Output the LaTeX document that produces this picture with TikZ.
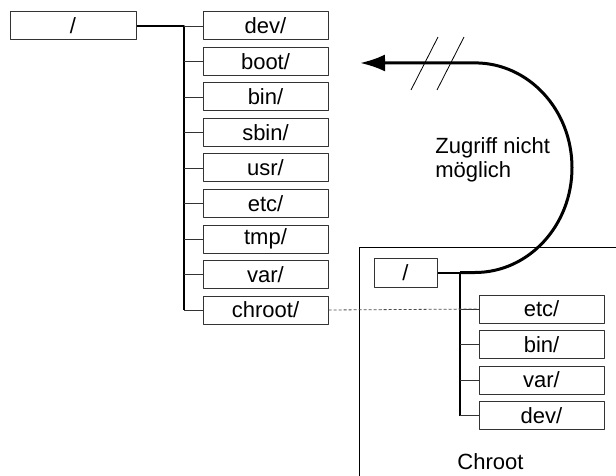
\documentclass[tikz,border=0pt]{standalone}
\usepackage{fontspec}
\setmainfont{Liberation Sans}
\usetikzlibrary{arrows.meta}
\begin{document}
\begin{tikzpicture}[x=0.5pt, y=-0.5pt, font=\fontsize{11}{12}\selectfont, line join=round,
  folder/.style={draw=black!80, line width=0.5pt, minimum width=62.5pt, minimum height=14pt, inner sep=0pt},
  branch/.style={line width=0.4pt, black!80},
  >=Latex]
\useasboundingbox (0,0) rectangle (616,476);
% chroot area
\draw[line width=0.5pt] (616,247) -- (359,247) -- (359,476);
\node[anchor=west, inner sep=0pt] (lbl) at (457,462) {Chroot};
% main tree
\node[folder, minimum width=63pt] (root) at (73,26) {/};
\foreach \name [count=\i] in {dev,boot,bin,sbin,usr,etc,tmp,var,chroot}
  \node[folder] (l-\name) at (265.5,{26+(\i-1)*35.5}) {\name/};
\coordinate (tr) at (184,26);
\draw[line width=0.6pt] (root) -- (tr) -- (tr |- l-chroot);
\foreach \name in {dev,boot,bin,sbin,usr,etc,tmp,var,chroot}
  \draw[branch] (tr |- l-\name) -- (l-\name.west);
% chroot tree
\node[folder, minimum width=31.5pt, minimum height=14.5pt] (croot) at (405.5,272.5) {/};
\foreach \name [count=\i] in {etc,bin,var,dev}
  \node[folder] (c-\name) at (541.5,{309+(\i-1)*35.5}) {\name/};
\coordinate (ctr) at (460,272.5);
\draw[line width=1pt] (croot) -- (ctr) -- (ctr |- c-dev);
\foreach \name in {etc,bin,var,dev}
  \draw[branch] (ctr |- c-\name) -- (c-\name.west);
% link
\draw[dashed, dash pattern=on 1.5pt off 1pt, line width=0.4pt, black!70] (l-chroot.east) -- (c-etc.west);
% no access
\coordinate (tip) at (360,63);
\draw[line width=1.5pt, -{Latex[length=12.5pt,width=8.5pt]}] (ctr) -- ++(15,0)
  arc[start angle=-90, end angle=90, x radius=48.5pt, y radius=52.4pt] -- (tip);
\draw[line width=0.4pt] (411,90) -- (438,37) (437,90) -- (464,37);
\node[anchor=base west, align=left, inner sep=0pt] (txt) at (435,177) {Zugriff nicht\\[0pt]möglich};
\end{tikzpicture}
\end{document}
